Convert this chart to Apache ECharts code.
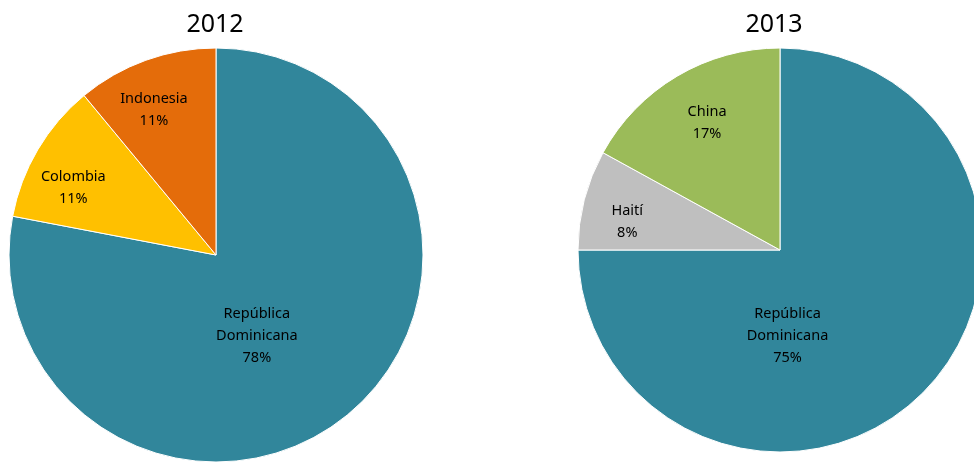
<!DOCTYPE html>
<html><head><meta charset="utf-8">
<script src="https://cdn.jsdelivr.net/npm/echarts@6/dist/echarts.min.js"></script>
<style>html,body{margin:0;padding:0;background:#fff}#c{width:974px;height:462px}</style>
</head><body><div id="c"></div>
<script>
const titles2012 = '2012';
const titles2013 = '2013';
const cats2012 = ['República\nDominicana', 'Colombia', 'Indonesia'];
const vals2012 = [78, 11, 11];
const cats2013 = ['República\nDominicana', 'Haití', 'China'];
const vals2013 = [75, 8, 17];

const colors2012 = ['#31869B', '#FFC000', '#E46C0A'];
const colors2013 = ['#31869B', '#BFBFBF', '#9BBB59'];
const offs2012 = [[-27, -1], [-51, -13], [-26, -45]];
const offs2013 = [[-66, 12], [-52, -2], [-20, -38]];
const FONT = '"Noto Sans", "Open Sans", sans-serif';

function build(cats, vals, colors, offs) {
  return cats.map((c, i) => ({
    name: c, value: vals[i],
    itemStyle: { color: colors[i] },
    label: { offset: offs[i] }
  }));
}
const labelCfg = {
  show: true, position: 'inside', color: '#000', fontFamily: FONT, fontSize: 14.5,
  lineHeight: 22, align: 'center',
  formatter: p => p.name + '\n' + p.value + '%'
};
const chart = echarts.init(document.getElementById('c'));
chart.setOption({
  animation: false,
  title: [
    { text: titles2012, left: 210, top: 7, textAlign: 'center',
      textStyle: { fontFamily: FONT, fontSize: 25, fontWeight: 'normal', color: '#000' } },
    { text: titles2013, left: 769, top: 7, textAlign: 'center',
      textStyle: { fontFamily: FONT, fontSize: 25, fontWeight: 'normal', color: '#000' } }
  ],
  series: [
    { type: 'pie', center: [216, 255], radius: 207, startAngle: 90, clockwise: true,
      label: labelCfg, labelLine: { show: false }, emphasis: { disabled: true },
      itemStyle: { borderColor: '#fff', borderWidth: 1 },
      data: build(cats2012, vals2012, colors2012, offs2012) },
    { type: 'pie', center: [780, 250], radius: 202, startAngle: 90, clockwise: true,
      label: labelCfg, labelLine: { show: false }, emphasis: { disabled: true },
      itemStyle: { borderColor: '#fff', borderWidth: 1 },
      data: build(cats2013, vals2013, colors2013, offs2013) }
  ]
});
</script></body></html>
